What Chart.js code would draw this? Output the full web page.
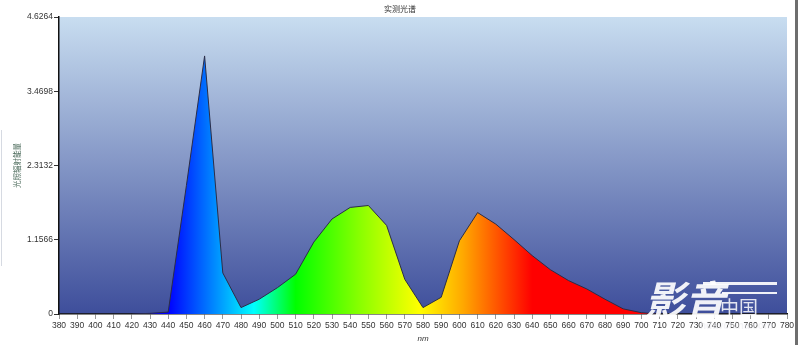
<!DOCTYPE html>
<html>
<head>
<meta charset="utf-8">
<script src="https://cdn.jsdelivr.net/npm/chart.js@4/dist/chart.umd.min.js"></script>
<style>
  body { margin: 0; background: #fff; }
  #wrap { position: relative; width: 800px; height: 345px; overflow: hidden; }
  #edge { position: absolute; left: 795px; top: 0; width: 3px; height: 345px; background: #6e6e6e; }
  #lline { position: absolute; left: 1px; top: 130px; width: 1px; height: 136px; background: #d6dae2; }
</style>
</head>
<body>
<div id="wrap">
  <canvas id="spec" width="800" height="345"></canvas>
  <div id="edge"></div>
  <div id="lline"></div>
</div>
<script>
// wavelengths in nm
const wavelengths = [380, 390, 400, 410, 420, 430, 440, 450, 460, 470,
                     480, 490, 500, 510, 520, 530, 540, 550, 560, 570,
                     580, 590, 600, 610, 620, 630, 640, 650, 660, 670,
                     680, 690, 700, 710, 720, 730, 740, 750, 760, 770, 780];
const energy = [0, 0, 0, 0, 0, 0.01, 0.03, 2.0, 4.02, 0.64,
                0.10, 0.23, 0.41, 0.62, 1.12, 1.48, 1.66, 1.69, 1.38, 0.54,
                0.10, 0.26, 1.14, 1.58, 1.40, 1.16, 0.91, 0.69, 0.52, 0.39,
                0.23, 0.08, 0.02, 0, 0, 0, 0, 0, 0, 0, 0];
const yTicks = [0, 1.1566, 2.3132, 3.4698, 4.6264];
const yTickLabels = ['0', '1.1566', '2.3132', '3.4698', '4.6264'];

// spectrum colours for the fill
const stopNm = [380, 440, 487, 510, 545, 578, 602, 640, 780];
const stopColor = ['#2a00c0', '#0000ff', '#00ffff', '#00ff00', '#88ff00', '#ffff00', '#ffa800', '#ff0000', '#ff0000'];

const labelFont = { family: 'Liberation Sans, Arial, sans-serif', size: 8.5 };

function spectrumFill(context) {
    const chart = context.chart;
    const area = chart.chartArea;
    if (!area) return 'rgba(0,0,255,0.8)';
    const xs = chart.scales.x;
    const x0 = xs.getPixelForValue(380);
    const x1 = xs.getPixelForValue(780);
    const g = chart.ctx.createLinearGradient(x0, 0, x1, 0);
    stopNm.forEach((nm, i) => {
        g.addColorStop((xs.getPixelForValue(nm) - x0) / (x1 - x0), stopColor[i]);
    });
    return g;
}

const plotBackground = {
    id: 'plotBackground',
    beforeDraw(chart) {
        const { ctx, chartArea: a } = chart;
        const g = ctx.createLinearGradient(0, a.top, 0, a.bottom);
        g.addColorStop(0, '#c8ddf0');
        g.addColorStop(1, '#3e4e9b');
        ctx.save();
        ctx.fillStyle = g;
        ctx.fillRect(a.left, a.top, a.right - a.left, a.bottom - a.top);
        ctx.restore();
    }
};

const extras = {
    id: 'extras',
    afterDraw(chart) {
        const ctx = chart.ctx;
        ctx.save();
        // title
        ctx.fillStyle = '#333';
        ctx.font = '8px "Noto Sans CJK SC", sans-serif';
        ctx.textAlign = 'center';
        ctx.textBaseline = 'middle';
        ctx.fillText('实测光谱', 400, 9);
        // watermark
        ctx.fillStyle = 'rgba(255,255,255,0.92)';
        ctx.font = 'italic bold 40px "Noto Sans CJK SC", sans-serif';
        ctx.textAlign = 'left';
        ctx.textBaseline = 'alphabetic';
        ctx.fillText('影音', 645, 315);
        ctx.fillRect(703, 282, 74, 3);
        ctx.fillRect(722, 292, 55, 2);
        ctx.fillStyle = 'rgba(255,255,255,0.85)';
        ctx.font = '19px "Noto Sans CJK SC", sans-serif';
        ctx.fillText('中国', 720, 315);
        ctx.fillStyle = 'rgba(235,235,240,0.55)';
        ctx.font = 'bold 10px "Liberation Sans", sans-serif';
        ctx.fillText('hdavchina.com', 700, 329);
        ctx.restore();
    }
};

new Chart(document.getElementById('spec'), {
    type: 'line',
    data: {
        datasets: [{
            label: '实测光谱',
            data: wavelengths.map((nm, i) => ({ x: nm, y: energy[i] })),
            borderColor: '#2b2d48',
            borderWidth: 1,
            backgroundColor: spectrumFill,
            fill: 'origin',
            tension: 0,
            pointRadius: 0
        }]
    },
    options: {
        responsive: false,
        animation: false,
        layout: { padding: { top: 17, right: 13, left: 0, bottom: 0 } },
        plugins: {
            legend: { display: false },
            title: { display: false },
            tooltip: { enabled: false }
        },
        scales: {
            x: {
                type: 'linear',
                min: 380,
                max: 780,
                ticks: {
                    stepSize: 10,
                    autoSkip: false,
                    maxRotation: 0,
                    color: '#333',
                    font: labelFont,
                    padding: 2
                },
                grid: { drawOnChartArea: false, tickLength: 5, color: '#999' },
                border: { color: '#111', width: 1.5 },
                title: {
                    display: true,
                    text: 'nm',
                    color: '#333',
                    font: { family: 'Liberation Sans, sans-serif', size: 8, style: 'italic' },
                    padding: { top: 0, bottom: 1 }
                },
                afterFit: axis => { axis.height = 31; }
            },
            y: {
                min: 0,
                max: 4.6264,
                afterBuildTicks: axis => { axis.ticks = yTicks.map(v => ({ value: v })); },
                ticks: {
                    color: '#333',
                    font: labelFont,
                    padding: 1,
                    callback: (value, index) => yTickLabels[index]
                },
                grid: { drawOnChartArea: false, tickLength: 5, color: '#333' },
                border: { color: '#111', width: 1.5 },
                title: {
                    display: true,
                    text: '光照辐射能量',
                    color: '#4b6a5a',
                    font: { family: '"Noto Sans CJK SC", sans-serif', size: 7.5 },
                    padding: { top: 13, bottom: 0 }
                },
                afterFit: axis => { axis.width = 59; }
            }
        }
    },
    plugins: [plotBackground, extras]
});
</script>
</body>
</html>
